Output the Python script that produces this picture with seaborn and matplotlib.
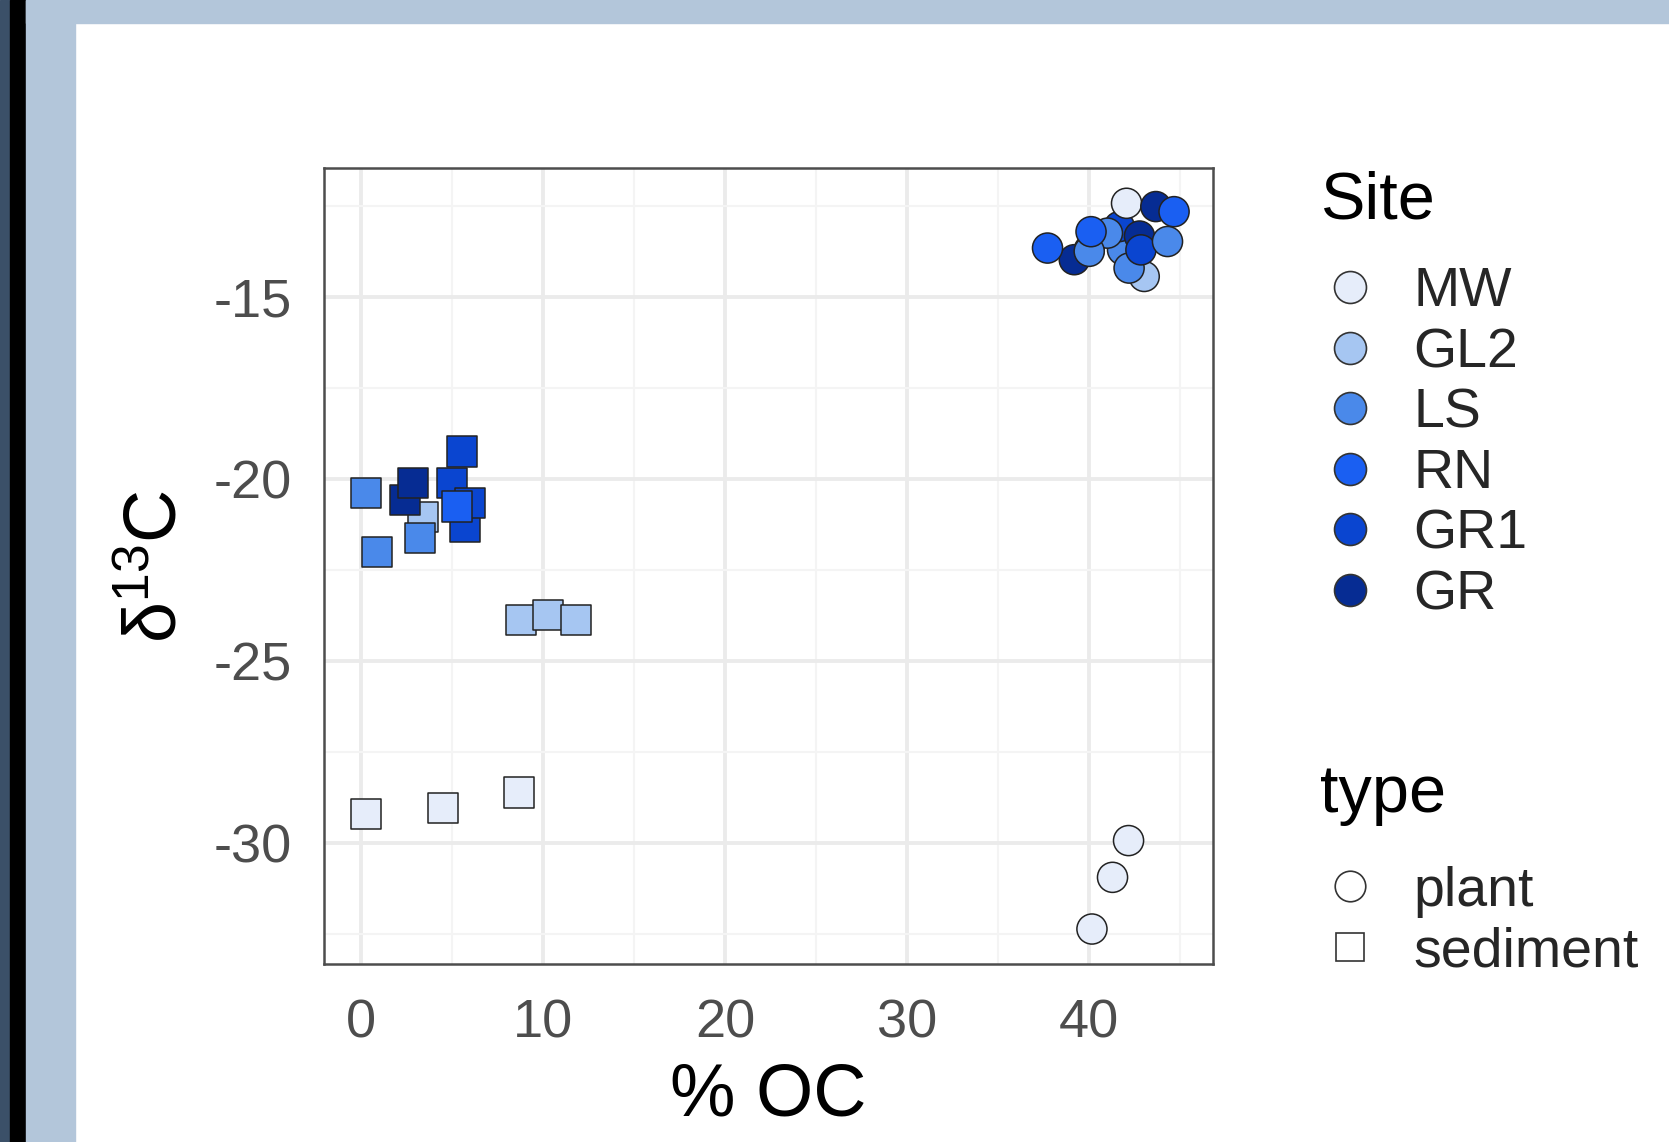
import pandas as pd
import seaborn as sns
import matplotlib.pyplot as plt
from matplotlib.lines import Line2D
from matplotlib.patches import Rectangle

# values
sites = ['MW', 'GL2', 'LS', 'RN', 'GR1', 'GR']
site_colors = ['#e6edfa', '#a6c6f2', '#4a89ea', '#1a5ff2', '#0a45d0', '#062c93']
types = ['plant', 'sediment']

plant_site = ['MW', 'MW', 'MW', 'GL2', 'GL2', 'GR', 'RN', 'LS', 'GR1', 'LS',
              'GR', 'LS', 'GR1', 'LS', 'MW', 'GR', 'RN', 'LS', 'RN']
plant_oc = [42.16, 41.28, 40.15, 43.02, 40.00, 39.18, 37.71, 41.83, 41.65, 41.00,
            42.76, 42.19, 42.84, 44.30, 42.05, 43.66, 44.66, 40.00, 40.10]
plant_d13c = [-29.94, -30.95, -32.37, -14.44, -13.71, -13.98, -13.66, -13.71, -13.07, -13.25,
              -13.33, -14.21, -13.71, -13.48, -12.43, -12.52, -12.66, -13.75, -13.21]

sed_site = ['MW', 'MW', 'MW', 'GL2', 'GL2', 'GL2', 'LS', 'LS', 'GL2', 'LS',
            'GR', 'GR', 'GR1', 'GR1', 'GR1', 'RN', 'GR1']
sed_oc = [0.29, 4.49, 8.70, 8.80, 10.27, 11.79, 0.87, 0.27, 3.43, 3.25,
          2.42, 2.88, 4.99, 5.72, 5.99, 5.26, 5.57]
sed_d13c = [-29.20, -29.05, -28.62, -23.89, -23.74, -23.89, -22.00, -20.39, -21.04, -21.63,
            -20.58, -20.12, -20.12, -21.31, -20.67, -20.76, -19.25]

df = pd.DataFrame({
    'Site': sed_site + plant_site,
    'type': ['sediment'] * len(sed_site) + ['plant'] * len(plant_site),
    'oc': sed_oc + plant_oc,
    'd13c': sed_d13c + plant_d13c,
})

sns.set_style('white')
plt.rcParams['font.family'] = ['Liberation Sans', 'DejaVu Sans']
plt.rcParams['mathtext.fontset'] = 'custom'
plt.rcParams['mathtext.rm'] = 'Liberation Sans'
plt.rcParams['axes.unicode_minus'] = False

W, H = 1669, 1142
fig = plt.figure(figsize=(W / 100, H / 100), dpi=100)
fig.patch.set_facecolor('white')
# slide-style frame around the chart
fig.patches.append(Rectangle((0, 0), 10 / W, 1, transform=fig.transFigure, color='#3b5068', zorder=-10))
fig.patches.append(Rectangle((10 / W, 0), 16 / W, 1, transform=fig.transFigure, color='black', zorder=-10))
fig.patches.append(Rectangle((26 / W, 0), 49 / W, 1, transform=fig.transFigure, color='#b3c6da', zorder=-10))
fig.patches.append(Rectangle((26 / W, 1 - 23 / H), 1, 23 / H, transform=fig.transFigure, color='#b3c6da', zorder=-10))

ax = fig.add_axes([0.1939, 0.1559, 0.5329, 0.6970])
sns.scatterplot(data=df, x='oc', y='d13c', hue='Site', style='type',
                hue_order=sites, palette=dict(zip(sites, site_colors)),
                markers={'plant': 'o', 'sediment': 's'},
                s=470, edgecolor='#222222', linewidth=1.1, legend=False, ax=ax, zorder=3)

ax.set_xlim(-2.05, 46.8)
ax.set_ylim(-33.33, -11.46)
ax.set_xticks([0, 10, 20, 30, 40])
ax.set_xticks([5, 15, 25, 35, 45], minor=True)
ax.set_yticks([-30, -25, -20, -15])
ax.set_yticks([-32.5, -27.5, -22.5, -17.5, -12.5], minor=True)
ax.grid(which='major', color='#ebebeb', lw=2.8)
ax.grid(which='minor', color='#f4f4f4', lw=1.5)
ax.set_axisbelow(True)
for sp in ax.spines.values():
    sp.set_color('#4d4d4d')
    sp.set_linewidth(1.8)
ax.tick_params(which='major', length=11, width=1.8, color='#333333',
               labelsize=39, labelcolor='#4d4d4d')
ax.tick_params(axis='x', pad=14)
ax.tick_params(axis='y', pad=12)
ax.tick_params(which='minor', length=0)

ax.set_xlabel('% OC', fontsize=53, color='black', labelpad=9)
ax.set_ylabel(r'$\mathregular{\delta^{13}C}$', fontsize=53, color='black', labelpad=16)

# legends: titles as text, entries as legends without title
fig.text(1320 / W, 1 - 218 / H, 'Site', fontsize=48, color='black', va='baseline', ha='left')
site_handles = [Line2D([0], [0], marker='o', ls='', markersize=23, markerfacecolor=c,
                       markeredgecolor='#333333', markeredgewidth=1.2) for c in site_colors]
fig.legend(site_handles, sites, loc='center left',
           bbox_to_anchor=(1324 / W, 1 - 444 / H), frameon=False,
           fontsize=40, handlelength=0.93, handletextpad=0.68,
           labelspacing=0.155, borderpad=0, borderaxespad=0)

fig.text(1320 / W, 1 - 812 / H, 'type', fontsize=48, color='black', va='baseline', ha='left')
type_handles = [Line2D([0], [0], marker='o', ls='', markersize=22, markerfacecolor='none',
                       markeredgecolor='#333333', markeredgewidth=1.2),
                Line2D([0], [0], marker='s', ls='', markersize=20, markerfacecolor='none',
                       markeredgecolor='#333333', markeredgewidth=1.2)]
fig.legend(type_handles, types, loc='center left',
           bbox_to_anchor=(1324 / W, 1 - 922 / H), frameon=False,
           fontsize=40, handlelength=0.93, handletextpad=0.68,
           labelspacing=0.155, borderpad=0, borderaxespad=0)

fig.savefig('out.png', dpi=100)
